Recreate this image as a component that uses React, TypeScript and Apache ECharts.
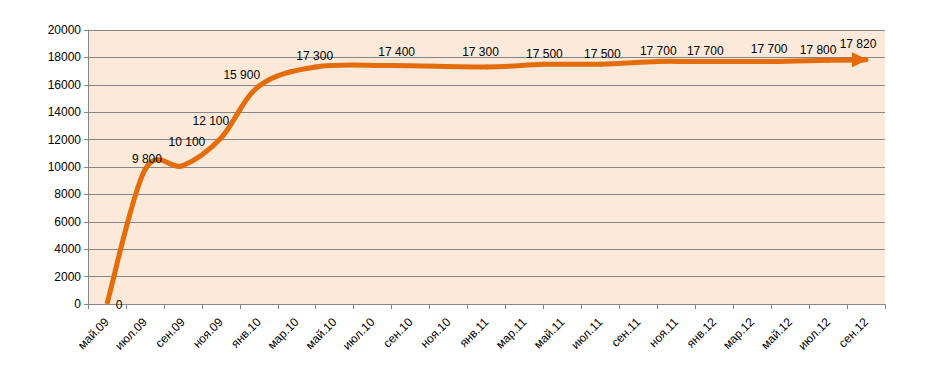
import React, { useEffect, useRef } from "react";
import * as echarts from "echarts";

// monthly category axis (апр.09 … окт.12); labels shown every second month starting at май.09
const months = [
  "апр.09", "май.09", "июн.09", "июл.09", "авг.09", "сен.09", "окт.09", "ноя.09", "дек.09",
  "янв.10", "фев.10", "мар.10", "апр.10", "май.10", "июн.10", "июл.10", "авг.10", "сен.10", "окт.10", "ноя.10", "дек.10",
  "янв.11", "фев.11", "мар.11", "апр.11", "май.11", "июн.11", "июл.11", "авг.11", "сен.11", "окт.11", "ноя.11", "дек.11",
  "янв.12", "фев.12", "мар.12", "апр.12", "май.12", "июн.12", "июл.12", "авг.12", "сен.12", "окт.12",
];

// observed points
const pointMonths = [
  "май.09", "июл.09", "сен.09", "ноя.09", "янв.10", "апр.10", "авг.10", "янв.11",
  "апр.11", "июл.11", "окт.11", "дек.11", "апр.12", "июл.12", "сен.12",
];
const pointValues = [
  0, 9800, 10100, 12100, 15900, 17300, 17400, 17300,
  17500, 17500, 17700, 17700, 17700, 17800, 17820,
];

// style: data-label offsets (px) from each point, as placed in the original
const labelOffsets = [
  [12, 1], [2, -11], [4, -24], [-10, -17], [-17, -11], [-1, -11], [5, -14], [-6, -15],
  [1, -10], [2, -10], [1, -11], [10, -11], [-2, -13], [-10, -10], [-2, -16],
];

const yMin = 0;
const yMax = 20000;
const yStep = 2000;

const ORANGE = "#E46C0A";
const GRID = "#868686";
const FONT = "Liberation Sans";

const fmt = (v: number) => String(v).replace(/\B(?=(\d{3})+(?!\d))/g, " ");

export default function App() {
  const ref = useRef<HTMLDivElement>(null);

  useEffect(() => {
    if (!ref.current) return;
    const chart = echarts.init(ref.current, null, { renderer: "svg" });
    const last = pointMonths.length - 1;
    const catIdx = pointMonths.map((m) => months.indexOf(m));

    const data = pointMonths.map((m, i) => {
      const item: any = {
        value: [m, pointValues[i]],
        label: { offset: labelOffsets[i] },
      };
      if (i === last) {
        item.symbol = "triangle";
        item.symbolSize = [15, 16];
        item.symbolRotate = -90;
        item.symbolOffset = [-6, 0];
      }
      return item;
    });

    // smooth curve (Catmull-Rom style, like the spreadsheet's smoothed line) drawn through the points
    const renderCurve = (params: any, api: any) => {
      if (params.dataIndex !== 0) return { type: "group", children: [] };
      const pts = catIdx.map((c, i) => api.coord([c, pointValues[i]]));
      const n = pts.length;
      const P = (i: number) => pts[Math.max(0, Math.min(n - 1, i))];
      const children: any[] = [];
      for (let i = 0; i < n - 1; i++) {
        const p0 = P(i - 1), p1 = P(i), p2 = P(i + 1), p3 = P(i + 2);
        children.push({
          type: "bezierCurve",
          shape: {
            x1: p1[0], y1: p1[1],
            cpx1: p1[0] + (p2[0] - p0[0]) / 6, cpy1: p1[1] + (p2[1] - p0[1]) / 6,
            cpx2: p2[0] - (p3[0] - p1[0]) / 6, cpy2: p2[1] - (p3[1] - p1[1]) / 6,
            x2: p2[0], y2: p2[1],
          },
          style: { stroke: ORANGE, lineWidth: 5, fill: null, lineCap: i === 0 ? "butt" : "round" },
        });
      }
      return { type: "group", children };
    };

    chart.setOption({
      animation: false,
      grid: {
        left: 88,
        right: 45,
        top: 30,
        bottom: 71,
        containLabel: false,
        outerBoundsMode: "none",
        show: true,
        backgroundColor: "#FDE9D9",
        borderWidth: 0,
      },
      xAxis: {
        type: "category",
        data: months,
        boundaryGap: false,
        axisLine: { show: true, lineStyle: { color: GRID, width: 1 } },
        axisTick: {
          show: true,
          length: 5,
          interval: (i: number) => i % 2 === 0,
          lineStyle: { color: GRID },
        },
        axisLabel: {
          interval: (i: number) => i % 2 === 1,
          rotate: 45,
          margin: 16,
          color: "#000",
          fontFamily: FONT,
          fontSize: 12,
        },
        splitLine: { show: false },
      },
      yAxis: {
        type: "value",
        min: yMin,
        max: yMax,
        interval: yStep,
        axisLine: { show: true, lineStyle: { color: GRID, width: 1 } },
        axisTick: { show: true, length: 4, lineStyle: { color: GRID } },
        axisLabel: {
          margin: 7,
          color: "#000",
          fontFamily: FONT,
          fontSize: 12,
          formatter: (v: number) => String(v),
        },
        splitLine: { show: true, lineStyle: { color: GRID, width: 1 } },
      },
      series: [
        {
          type: "custom",
          renderItem: renderCurve,
          data: catIdx.map((c, i) => [c, pointValues[i]]),
          encode: { x: 0, y: 1 },
          silent: true,
          z: 2,
        },
        {
          type: "line",
          data,
          smooth: false,
          symbol: "circle",
          symbolSize: 1,
          showSymbol: true,
          itemStyle: { color: ORANGE },
          lineStyle: { color: ORANGE, width: 0, opacity: 0 },
          label: {
            show: true,
            position: "inside",
            color: "#000",
            fontFamily: FONT,
            fontSize: 12,
            formatter: (p: any) => fmt(p.value[1]),
          },
          emphasis: { disabled: true },
          z: 3,
        },
      ],
    });
    return () => chart.dispose();
  }, []);

  return (
    <div
      ref={ref}
      style={{ position: "absolute", left: 0, top: 0, width: 930, height: 375, background: "#fff" }}
    />
  );
}
